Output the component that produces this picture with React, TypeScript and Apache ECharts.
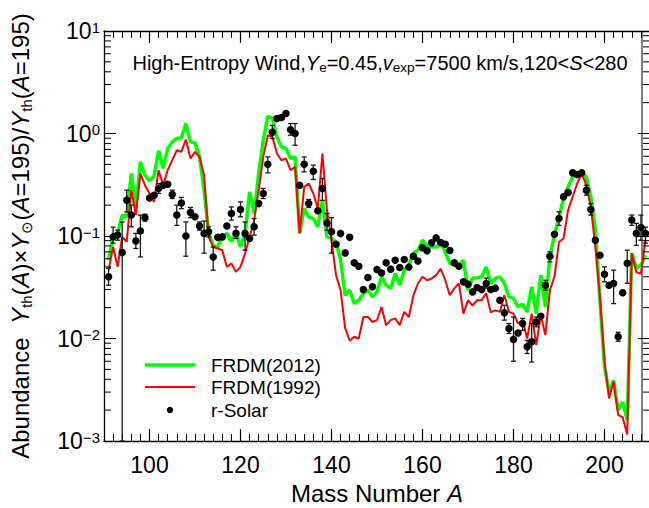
import React, { useEffect, useRef } from 'react';
import * as echarts from 'echarts';

// Mass numbers A = 91 ... 209
const massNumbers: number[] = Array.from({ length: 119 }, (_, i) => 91 + i);

const frdm2012 = [
  0.058, 0.098, 0.106, 0.16, 0.154, 0.407, 0.192, 0.528, 0.392, 0.345,
  0.383, 0.676, 0.456, 0.714, 0.828, 0.894, 0.906, 1.25, 0.828, 0.81,
  0.591, 0.28, 0.106, 0.081, 0.078, 0.098, 0.106, 0.088, 0.106, 0.078,
  0.106, 0.269, 0.166, 0.407, 0.86, 1.47, 1.4, 0.927, 0.74, 0.714,
  0.57, 0.591, 0.106, 0.185, 0.154, 0.148, 0.123, 0.223, 0.098, 0.095,
  0.087, 0.058, 0.0264, 0.0296, 0.0219, 0.0236, 0.0275, 0.0296, 0.0255, 0.0285,
  0.0399, 0.0331, 0.0308, 0.0431, 0.0331, 0.0464, 0.0519, 0.0675, 0.0727, 0.091,
  0.081, 0.078, 0.078, 0.0845, 0.07, 0.054, 0.052, 0.052, 0.058, 0.0296,
  0.039, 0.039, 0.04, 0.05, 0.0344, 0.0385, 0.04, 0.0344, 0.0255, 0.0246,
  0.0203, 0.0216, 0.0182, 0.0319, 0.0175, 0.0415, 0.0203, 0.0625, 0.102, 0.154,
  0.232, 0.301, 0.377, 0.413, 0.413, 0.377, 0.241, 0.114, 0.0236, 0.00525,
  0.003, 0.0039, 0.002, 0.0024, 0.0016, 0.068, 0.0485, 0.052, 0.065,
];

const frdm1992 = [
  0.0464, 0.078, 0.05, 0.098, 0.0875, 0.28, 0.16, 0.407, 0.313, 0.26,
  0.215, 0.438, 0.313, 0.438, 0.549, 0.687, 0.661, 0.874, 0.57, 0.661,
  0.591, 0.392, 0.098, 0.078, 0.0755, 0.0727, 0.05, 0.054, 0.0447, 0.05,
  0.0675, 0.098, 0.1426, 0.28, 0.591, 0.962, 0.927, 0.638, 0.549, 0.57,
  0.438, 0.472, 0.106, 0.301, 0.325, 0.26, 0.185, 0.638, 0.179, 0.091,
  0.0415, 0.0296, 0.0126, 0.0095, 0.0104, 0.01, 0.0162, 0.0162, 0.0145, 0.0151,
  0.0203, 0.0135, 0.0151, 0.0157, 0.0135, 0.0182, 0.0162, 0.0264, 0.0344, 0.04,
  0.037, 0.0385, 0.0415, 0.0482, 0.037, 0.0264, 0.0308, 0.0344, 0.0175, 0.0236,
  0.021, 0.0236, 0.0236, 0.0277, 0.018, 0.0188, 0.0182, 0.0264, 0.0182, 0.0175,
  0.014, 0.0151, 0.01, 0.0175, 0.0086, 0.0169, 0.0108, 0.0296, 0.04, 0.0875,
  0.0946, 0.179, 0.241, 0.325, 0.407, 0.313, 0.192, 0.078, 0.0255, 0.0061,
  0.0026, 0.0038, 0.0018, 0.0017, 0.00116, 0.0675, 0.0443, 0.043, 0.091,
];

const rSolar = [
  0.04, 0.098, 0.102, 0.069, 0.223, 0.16, 0.0896, 0.112, 0.151, 0.235,
  0.25, 0.291, 0.313, 0.32, 0.254, 0.16, 0.21, 0.1, 0.17, 0.154,
  0.125, 0.106, 0.11, 0.0625, 0.097, 0.098, 0.125, 0.166, 0.106, 0.181,
  0.106, 0.0946, 0.123, 0.207, 0.26, 0.501, 1.03, 1.4, 1.43, 1.57,
  1.09, 1.0, 0.313, 0.501, 0.207, 0.429, 0.176, 0.291, 0.134, 0.11,
  0.0832, 0.106, 0.0684, 0.097, 0.0547, 0.0507, 0.03, 0.0394, 0.0319, 0.0471,
  0.0436, 0.0547, 0.0475, 0.058, 0.0493, 0.059, 0.0497, 0.0635, 0.0571, 0.0766,
  0.0716, 0.0857, 0.0958, 0.0864, 0.0832, 0.0722, 0.0547, 0.0507, 0.0357, 0.0339,
  0.0285, 0.0315, 0.03, 0.0344, 0.03, 0.031, 0.0236, 0.0178, 0.0125, 0.0098,
  0.0113, 0.014, 0.0083, 0.0093, 0.0145, 0.0165, 0.0331, 0.0635, 0.104, 0.148,
  0.241, 0.266, 0.413, 0.398, 0.413, 0.28, 0.181, 0.091, 0.065, 0.0424,
  0.0331, 0.0344, 0.0104, 0.0279, 0.0543, 0.143, 0.106, 0.121, 0.106,
];

const errorBarMass = [
  91, 92, 93, 94, 95, 96, 97, 98, 99, 102, 105, 106, 107, 108, 109, 111, 112, 113, 114,
  118, 119, 120, 121, 123, 125, 126, 127, 131, 132, 134, 135, 136, 138, 139, 140,
  174, 178, 179, 180, 182, 183, 184, 185, 187, 188, 190, 196, 197, 200, 202, 203,
  205, 206, 207, 208, 209,
];
const errorBarLow = [
  0.0331, 0.0851, 0.091, 0.001, 0.172, 0.123, 0.0755, 0.0625, 0.14, 0.26, 0.232, 0.127, 0.185, 0.0635, 0.151, 0.114, 0.068, 0.098, 0.0464,
  0.143, 0.0946, 0.154, 0.0727, 0.102, 0.232, 0.413, 0.894, 0.962, 0.769, 0.422, 0.19, 0.356, 0.223, 0.114, 0.068,
  0.031, 0.0151, 0.0112, 0.006, 0.012, 0.00714, 0.0059, 0.013, 0.0296, 0.0559, 0.127, 0.25, 0.16, 0.0357, 0.0219, 0.0094,
  0.0346, 0.127, 0.081, 0.091, 0.0851,
];
const errorBarHigh = [
  0.0485, 0.122, 0.114, 0.137, 0.28, 0.2, 0.106, 0.16, 0.163, 0.325, 0.28, 0.2, 0.238, 0.137, 0.19, 0.137, 0.14, 0.123, 0.078,
  0.192, 0.123, 0.215, 0.137, 0.148, 0.291, 0.591, 1.2, 1.25, 1.25, 0.591, 0.227, 0.491, 0.364, 0.166, 0.151,
  0.0388, 0.0211, 0.014, 0.0162, 0.0157, 0.0096, 0.014, 0.0162, 0.037, 0.07, 0.172, 0.313, 0.207, 0.05, 0.0464, 0.0115,
  0.0727, 0.16, 0.133, 0.16, 0.122,
];

const xLabelTicks = [100, 120, 140, 160, 180, 200];
const yMinorTicks = [
  0.002, 0.003, 0.004, 0.005, 0.006, 0.007, 0.008, 0.009,
  0.02, 0.03, 0.04, 0.05, 0.06, 0.07, 0.08, 0.09,
  0.2, 0.3, 0.4, 0.5, 0.6, 0.7, 0.8, 0.9,
  2, 3, 4, 5, 6, 7, 8, 9,
];

const X_MIN = 90;
const X_MAX = 210;
const Y_MIN = 0.001;
const Y_MAX = 10;
const FONT = '"Liberation Sans", Arial, Helvetica, sans-serif';

export default function App() {
  const ref = useRef<HTMLDivElement>(null);

  useEffect(() => {
    const chart = echarts.init(ref.current!, null, { renderer: 'svg' });

    const expLabel = (v: number) => {
      const e = Math.round(Math.log10(v));
      const s = e < 0 ? '\u2212' + String(-e) : String(e);
      return `{b|10}{s|${s}}`;
    };

    const axisLineStyle = { color: '#000', width: 1.3 };

    const option: any = {
      animation: false,
      backgroundColor: '#ffffff',
      grid: { left: 104, top: 31, width: 546, height: 410, containLabel: false, outerBoundsMode: 'none' },
      xAxis: [
        {
          type: 'value',
          position: 'bottom',
          min: X_MIN,
          max: X_MAX,
          interval: 2,
          axisLine: { show: true, lineStyle: axisLineStyle },
          axisTick: { show: true, inside: true, length: 7, lineStyle: { color: '#000', width: 1 } },
          splitLine: { show: false },
          axisLabel: {
            show: true,
            interval: 0,
            margin: 12,
            color: '#000',
            fontSize: 23,
            fontFamily: FONT,
            formatter: (v: number) => (v % 20 === 0 ? String(v) : ''),
          },
          name: 'Mass Number {i|A}',
          nameLocation: 'middle',
          nameGap: 40,
          nameTextStyle: {
            color: '#000',
            fontSize: 24,
            fontFamily: FONT,
            rich: { i: { fontStyle: 'italic', fontSize: 24, fontFamily: FONT, color: '#000' } },
          },
        },
        {
          type: 'value',
          position: 'top',
          min: X_MIN,
          max: X_MAX,
          interval: 2,
          axisLine: { show: true, lineStyle: axisLineStyle },
          axisTick: { show: true, inside: true, length: 7, lineStyle: { color: '#000', width: 1 } },
          splitLine: { show: false },
          axisLabel: { show: false },
        },
      ],
      yAxis: [
        {
          type: 'log',
          logBase: 10,
          position: 'left',
          min: Y_MIN,
          max: Y_MAX,
          axisLine: { show: true, lineStyle: axisLineStyle },
          axisTick: { show: true, inside: true, length: 12, lineStyle: { color: '#000', width: 1 } },
          splitLine: { show: false },
          axisLabel: {
            show: true,
            margin: 4,
            color: '#000',
            formatter: expLabel,
            rich: {
              b: { fontSize: 23, lineHeight: 23, fontFamily: FONT, color: '#000' },
              s: { fontSize: 15, lineHeight: 10, verticalAlign: 'top', fontFamily: FONT, color: '#000' },
            },
          },
          name:
            'Abundance  {i|Y}{sub|th}({i|A})\u00d7{i|Y}{sub|\u2299}({i|A}=195)/{i|Y}{sub|th}({i|A}=195)',
          nameLocation: 'middle',
          nameRotate: 90,
          nameGap: 70,
          nameTextStyle: {
            color: '#000',
            fontSize: 24,
            lineHeight: 28,
            fontFamily: FONT,
            rich: {
              i: { fontStyle: 'italic', fontSize: 24, lineHeight: 28, fontFamily: FONT, color: '#000' },
              sub: { fontSize: 15, lineHeight: 10, verticalAlign: 'bottom', fontFamily: FONT, color: '#000' },
            },
          },
        },
        {
          type: 'log',
          logBase: 10,
          position: 'right',
          min: Y_MIN,
          max: Y_MAX,
          axisLine: { show: true, lineStyle: axisLineStyle },
          axisTick: { show: true, inside: true, length: 12, lineStyle: { color: '#000', width: 1 } },
          splitLine: { show: false },
          axisLabel: { show: false },
        },
      ],
      series: [
        {
          name: 'FRDM(2012)',
          type: 'line',
          xAxisIndex: 0,
          yAxisIndex: 0,
          data: massNumbers.map((a, i) => [a, frdm2012[i]]),
          showSymbol: false,
          symbol: 'none',
          lineStyle: { color: '#00ff00', width: 3.5 },
          z: 2,
        },
        {
          name: 'FRDM(1992)',
          type: 'line',
          xAxisIndex: 0,
          yAxisIndex: 0,
          data: massNumbers.map((a, i) => [a, frdm1992[i]]),
          showSymbol: false,
          symbol: 'none',
          lineStyle: { color: '#ff0000', width: 2 },
          z: 3,
        },
        {
          name: 'errors',
          type: 'custom',
          xAxisIndex: 0,
          yAxisIndex: 0,
          silent: true,
          z: 4,
          encode: { x: 0, y: [1, 2] },
          data: errorBarMass.map((a, i) => [a, errorBarLow[i], errorBarHigh[i]]),
          renderItem: (params: any, api: any) => {
            const a = api.value(0);
            const lo = api.coord([a, api.value(1)]);
            const hi = api.coord([a, api.value(2)]);
            const w = 2.5;
            const st = { stroke: '#1a1a1a', lineWidth: 1.3 };
            return {
              type: 'group',
              children: [
                { type: 'line', shape: { x1: lo[0], y1: lo[1], x2: hi[0], y2: hi[1] }, style: st },
                { type: 'line', shape: { x1: lo[0] - w, y1: lo[1], x2: lo[0] + w, y2: lo[1] }, style: st },
                { type: 'line', shape: { x1: hi[0] - w, y1: hi[1], x2: hi[0] + w, y2: hi[1] }, style: st },
              ],
            };
          },
        },
        {
          name: 'r-Solar',
          type: 'scatter',
          xAxisIndex: 0,
          yAxisIndex: 0,
          data: massNumbers.map((a, i) => [a, rSolar[i]]),
          symbol: 'circle',
          symbolSize: 7.5,
          itemStyle: { color: '#000', opacity: 1 },
          z: 5,
        },
        {
          name: 'yMinorTicks',
          type: 'custom',
          xAxisIndex: 0,
          yAxisIndex: 0,
          silent: true,
          clip: false,
          z: 6,
          data: yMinorTicks.map((v) => [X_MIN, v]),
          renderItem: (params: any, api: any) => {
            const v = api.value(1);
            const l = api.coord([X_MIN, v]);
            const r = api.coord([X_MAX, v]);
            const st = { stroke: '#000', lineWidth: 1 };
            return {
              type: 'group',
              children: [
                { type: 'line', shape: { x1: l[0], y1: l[1], x2: l[0] + 7, y2: l[1] }, style: st },
                { type: 'line', shape: { x1: r[0] - 7, y1: r[1], x2: r[0], y2: r[1] }, style: st },
              ],
            };
          },
        },
        {
          name: 'xMajorTicks',
          type: 'custom',
          xAxisIndex: 0,
          yAxisIndex: 0,
          silent: true,
          clip: false,
          z: 6,
          data: xLabelTicks.map((a) => [a, Y_MIN]),
          renderItem: (params: any, api: any) => {
            const a = api.value(0);
            const b = api.coord([a, Y_MIN]);
            const t = api.coord([a, Y_MAX]);
            const st = { stroke: '#000', lineWidth: 1.2 };
            return {
              type: 'group',
              children: [
                { type: 'line', shape: { x1: b[0], y1: b[1], x2: b[0], y2: b[1] - 12 }, style: st },
                { type: 'line', shape: { x1: t[0], y1: t[1], x2: t[0], y2: t[1] + 12 }, style: st },
              ],
            };
          },
        },
      ],
      graphic: [
        {
          type: 'line',
          silent: true,
          shape: { x1: 642, y1: 31, x2: 642, y2: 441 },
          style: { stroke: '#000', lineWidth: 1 },
        },
        {
          type: 'text',
          x: 380,
          y: 63,
          silent: true,
          style: {
            text: 'High-Entropy Wind,{i|Y}{sub|e}=0.45,{i|v}{sub|exp}=7500 km/s,120<{i|S}<280',
            fontSize: 20,
            lineHeight: 23,
            fontFamily: FONT,
            fill: '#000',
            align: 'center',
            verticalAlign: 'middle',
            rich: {
              i: { fontStyle: 'italic', fontSize: 20, lineHeight: 23, fontFamily: FONT, fill: '#000' },
              sub: { fontSize: 13.5, lineHeight: 8, verticalAlign: 'bottom', fontFamily: FONT, fill: '#000' },
            },
          },
        },
        {
          type: 'line',
          silent: true,
          shape: { x1: 145, y1: 365, x2: 195, y2: 365 },
          style: { stroke: '#00ff00', lineWidth: 3.5 },
        },
        {
          type: 'line',
          silent: true,
          shape: { x1: 145, y1: 387, x2: 195, y2: 387 },
          style: { stroke: '#ff0000', lineWidth: 2 },
        },
        {
          type: 'circle',
          silent: true,
          shape: { cx: 170, cy: 410, r: 3.2 },
          style: { fill: '#000' },
        },
        {
          type: 'text',
          x: 211,
          y: 365,
          silent: true,
          style: { text: 'FRDM(2012)', fontSize: 19, fontFamily: FONT, fill: '#000', verticalAlign: 'middle' },
        },
        {
          type: 'text',
          x: 211,
          y: 387,
          silent: true,
          style: { text: 'FRDM(1992)', fontSize: 19, fontFamily: FONT, fill: '#000', verticalAlign: 'middle' },
        },
        {
          type: 'text',
          x: 211,
          y: 410,
          silent: true,
          style: { text: 'r-Solar', fontSize: 19, fontFamily: FONT, fill: '#000', verticalAlign: 'middle' },
        },
      ],
    };

    chart.setOption(option);
    return () => {
      chart.dispose();
    };
  }, []);

  return (
    <div
      ref={ref}
      style={{ position: 'fixed', left: 0, top: 0, width: 649, height: 508, background: '#fff' }}
    />
  );
}
